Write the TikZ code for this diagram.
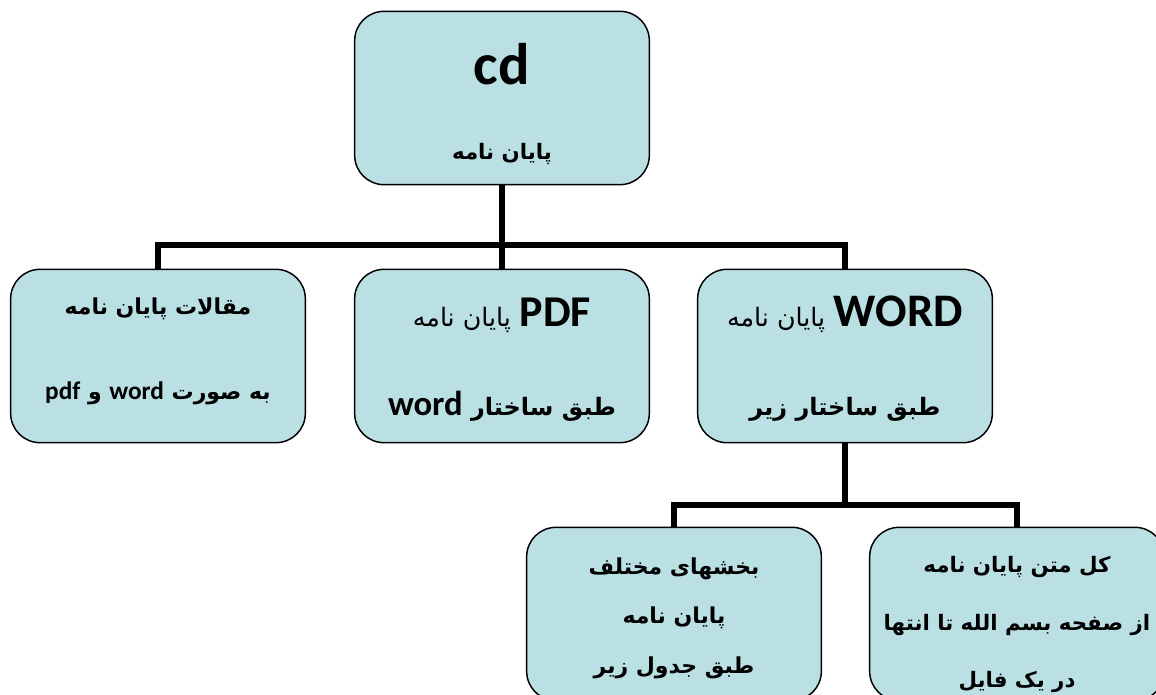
\documentclass[tikz,border=0pt]{standalone}
\usepackage{fontspec}
\setmainfont{Carlito}
\newfontfamily\arabicfont[Script=Arabic]{DejaVu Sans}
\TeXXeTstate=1
\newcommand{\fa}[1]{{\arabicfont\beginR #1\endR}}
\newcommand{\lat}[1]{\beginL{\rmfamily #1}\endL}
\definecolor{boxfill}{RGB}{187,224,227}

\begin{document}
\begin{tikzpicture}[x=0.75pt,y=-0.75pt,
  box/.style={draw=black,line width=1.1pt,fill=boxfill,rounded corners=22pt,
    minimum width=221pt,minimum height=130pt,align=center,inner sep=0pt},
  link/.style={line width=3.8pt}]
\useasboundingbox (0,0) rectangle (1156,695);
\clip (0,0) rectangle (1156,695);
\node[box,font=\bfseries\fontsize{16}{56}\selectfont] (cd) at (502,98)
  {\rule{0pt}{40pt}{\fontsize{44}{44}\selectfont cd}\\\fa{پایان نامه}};
\node[box,font=\bfseries\fontsize{16.5}{64}\selectfont] (art) at (158,356)
  {\fa{مقالات پایان نامه}\\
  \fa{به صورت \lat{\fontsize{19}{19}\selectfont word} و \lat{\fontsize{19}{19}\selectfont pdf}}\rule[-11pt]{0pt}{0pt}};
\node[box,font=\bfseries\fontsize{19}{67}\selectfont] (pdf) at (502,356)
  {\rule{0pt}{27pt}\fa{\lat{\fontsize{33}{33}\selectfont PDF} {\mdseries پایان نامه}}\\
  {\fontsize{18}{67}\selectfont\fa{طبق ساختار \lat{\fontsize{26}{26}\selectfont word}}}};
\node[box,font=\bfseries\fontsize{19}{67}\selectfont] (wrd) at (845,356)
  {\rule{0pt}{27pt}\fa{\lat{\fontsize{35}{35}\selectfont WORD} {\mdseries پایان نامه}}\\
  {\fontsize{18}{67}\selectfont\fa{طبق ساختار زیر}}};
\node[box,font=\bfseries\fontsize{16.5}{37}\selectfont] (part) at (674,614)
  {\rule{0pt}{19pt}\fa{بخشهای مختلف}\\\fa{پایان نامه}\\\fa{طبق جدول زیر}};
\node[box,font=\bfseries\fontsize{16}{43}\selectfont] (whole) at (1017,614)
  {\rule{0pt}{28pt}\fa{کل متن پایان نامه}\\\fa{از صفحه بسم الله تا انتها}\\\fa{در یک فایل}};
\coordinate (j1) at (502,245);
\coordinate (j2) at (845,505);
\draw[link] (cd) -- (j1);
\draw[link] (j1) -| (art);
\draw[link] (j1) -- (pdf);
\draw[link] (j1) -| (wrd);
\draw[link] (wrd) -- (j2);
\draw[link] (j2) -| (part);
\draw[link] (j2) -| (whole);
\end{tikzpicture}
\end{document}
